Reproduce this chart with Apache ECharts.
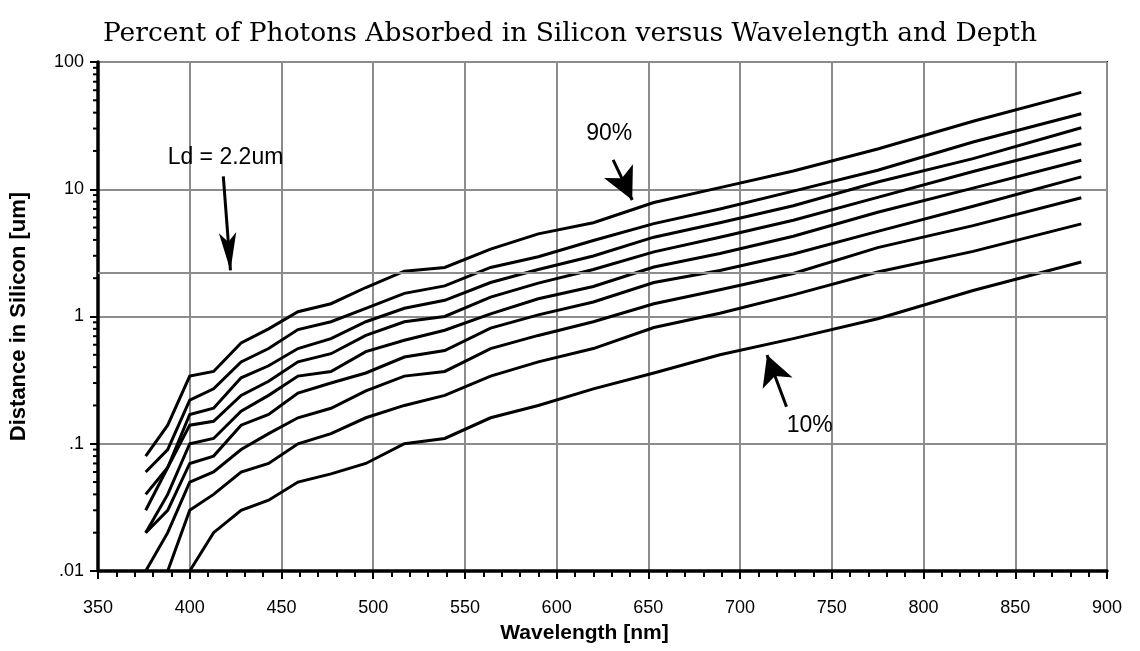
<!DOCTYPE html>
<html>
<head>
<meta charset="utf-8">
<script src="https://cdn.jsdelivr.net/npm/echarts@6/dist/echarts.min.js"></script>
<style>
  html, body { margin: 0; padding: 0; background: #fff; }
  #chart { width: 1140px; height: 651px; }
</style>
</head>
<body>
<div id="chart"></div>
<script>
// Photon energies 3.3 eV ... 1.4 eV expressed as wavelength (nm)
const wavelengths = [376, 388, 400, 413, 428, 443, 459, 477, 496, 517, 539, 564, 590, 620, 653, 689, 729, 775, 827, 886];

// Depth (um) at which the given fraction of photons has been absorbed
const depth90 = [0.08, 0.14, 0.34, 0.37, 0.62, 0.80, 1.09, 1.26, 1.69, 2.27, 2.43, 3.38, 4.46, 5.46, 7.86, 10.3, 13.9, 20.7, 34.2, 57.7];
const depth80 = [0.06, 0.09, 0.22, 0.27, 0.44, 0.56, 0.79, 0.91, 1.16, 1.52, 1.74, 2.43, 2.95, 3.96, 5.37, 7.0, 9.66, 14.1, 23.5, 39.2];
const depth70 = [0.04, 0.065, 0.17, 0.19, 0.33, 0.41, 0.56, 0.67, 0.91, 1.16, 1.34, 1.85, 2.34, 2.99, 4.2, 5.46, 7.42, 11.4, 17.4, 30.4];
const depth60 = [0.03, 0.065, 0.14, 0.15, 0.24, 0.31, 0.44, 0.51, 0.71, 0.91, 1.0, 1.42, 1.83, 2.34, 3.22, 4.2, 5.7, 8.63, 13.8, 22.8];
const depth50 = [0.02, 0.04, 0.10, 0.11, 0.18, 0.24, 0.34, 0.37, 0.53, 0.65, 0.78, 1.05, 1.38, 1.72, 2.45, 3.13, 4.27, 6.59, 10.2, 16.9];
const depth40 = [0.02, 0.03, 0.07, 0.08, 0.14, 0.17, 0.25, 0.30, 0.36, 0.48, 0.54, 0.81, 1.03, 1.30, 1.85, 2.3, 3.1, 4.67, 7.36, 12.5];
const depth30 = [0.01, 0.02, 0.05, 0.06, 0.09, 0.12, 0.16, 0.19, 0.26, 0.34, 0.37, 0.56, 0.71, 0.91, 1.26, 1.62, 2.18, 3.48, 5.18, 8.58];
const depth20 = [null, 0.01, 0.03, 0.04, 0.06, 0.07, 0.10, 0.12, 0.16, 0.20, 0.24, 0.34, 0.44, 0.56, 0.82, 1.06, 1.48, 2.24, 3.25, 5.34];
const depth10 = [null, null, 0.01, 0.02, 0.03, 0.036, 0.05, 0.058, 0.07, 0.10, 0.11, 0.16, 0.20, 0.27, 0.36, 0.50, 0.67, 0.96, 1.6, 2.68];

const curves = [
  { name: '90%', values: depth90 },
  { name: '80%', values: depth80 },
  { name: '70%', values: depth70 },
  { name: '60%', values: depth60 },
  { name: '50%', values: depth50 },
  { name: '40%', values: depth40 },
  { name: '30%', values: depth30 },
  { name: '20%', values: depth20 },
  { name: '10%', values: depth10 }
];

// Axis ranges and tick labels
const xMin = 350, xMax = 900, xStep = 50;
const yMin = 0.01, yMax = 100;
const yTickLabels = { '100': '100', '10': '10', '1': '1', '0.1': '.1', '0.01': '.01' };

// Diffusion length reference line
const diffusionLength = 2.2;

// Annotations: text anchors and arrows, in data units
const annotationTexts = [
  { text: 'Ld = 2.2um', at: [419.5, 17.6] },
  { text: '90%', at: [628.7, 27.4] },
  { text: '10%', at: [738, 0.138] }
];
const annotationArrows = [
  { from: [418.3, 12.6], to: [422.2, 2.3], head: [13, 38] },
  { from: [630.8, 17.0], to: [641.2, 8.23], head: [24, 32] },
  { from: [725.3, 0.195], to: [714.7, 0.498], head: [24, 30] }
];

// Unlabelled minor ticks at 2..9 of each decade
const yMinorTicks = [];
for (let e = -2; e < 2; e++) {
  for (let m = 2; m <= 9; m++) yMinorTicks.push(+(m * Math.pow(10, e)).toPrecision(2));
}

const FONT = '"Liberation Sans", Arial, Helvetica, sans-serif';
const GRID_GRAY = '#8c8c8c';

const chart = echarts.init(document.getElementById('chart'), null, { renderer: 'canvas' });

const series = curves.map(c => ({
  name: c.name,
  type: 'line',
  data: wavelengths.map((w, i) => [w, c.values[i]]).filter(p => p[1] != null),
  showSymbol: false,
  symbol: 'none',
  silent: true,
  z: 3,
  lineStyle: { color: '#000', width: 3, join: 'miter' }
}));

// Diffusion-length gridline
series.push({
  type: 'line',
  data: [],
  silent: true,
  z: 1,
  markLine: {
    silent: true,
    symbol: ['none', 'none'],
    label: { show: false },
    lineStyle: { color: GRID_GRAY, width: 2, type: 'solid' },
    data: [{ yAxis: diffusionLength }]
  }
});

// Annotation arrows and labels
series.push({
  type: 'line',
  data: [],
  silent: true,
  z: 5,
  markLine: {
    silent: true,
    animation: false,
    label: { show: false },
    lineStyle: { color: '#000', width: 3, type: 'solid' },
    data: annotationArrows.map(a => [
      { coord: a.from, symbol: 'none' },
      { coord: a.to, symbol: 'arrow', symbolSize: a.head }
    ])
  },
  markPoint: {
    silent: true,
    animation: false,
    symbol: 'circle',
    symbolSize: 0,
    data: annotationTexts.map(t => ({
      coord: t.at,
      label: {
        show: true, position: 'inside', formatter: t.text,
        color: '#000', fontFamily: FONT, fontSize: 23
      }
    }))
  }
});

// Minor ticks on the logarithmic axis
series.push({
  type: 'custom',
  silent: true,
  clip: false,
  z: 6,
  data: yMinorTicks.map(v => [xMin, v]),
  renderItem: (params, api) => {
    const p = api.coord([api.value(0), api.value(1)]);
    return {
      type: 'line',
      shape: { x1: p[0] - 5, y1: p[1], x2: p[0], y2: p[1] },
      style: { stroke: '#000', lineWidth: 2 }
    };
  }
});

chart.setOption({
  animation: false,
  backgroundColor: '#fff',
  title: {
    text: 'Percent of Photons Absorbed in Silicon versus Wavelength and Depth',
    left: 'center',
    top: 21,
    padding: 0,
    textStyle: { fontFamily: '"DejaVu Serif", serif', fontSize: 26.5, fontWeight: 'normal', color: '#000' }
  },
  grid: {
    left: 98, right: 33, top: 62, bottom: 80,
    show: true, borderColor: '#000', borderWidth: 2, backgroundColor: 'transparent',
    outerBoundsMode: 'none'
  },
  xAxis: {
    type: 'value',
    min: xMin, max: xMax, interval: xStep,
    name: 'Wavelength [nm]',
    nameLocation: 'middle',
    nameGap: 52,
    nameTextStyle: { fontFamily: FONT, fontSize: 21, fontWeight: 'bold', color: '#000', padding: [0, 36, 0, 0] },
    axisLine: { show: true, onZero: false, lineStyle: { color: '#000', width: 3.5 } },
    axisTick: { show: true, inside: false, length: 8, lineStyle: { color: '#000', width: 2 } },
    minorTick: { show: true, splitNumber: 5, length: 6, lineStyle: { color: '#000', width: 2 } },
    axisLabel: { margin: 28, fontFamily: FONT, fontSize: 18, color: '#000' },
    splitLine: { show: true, lineStyle: { color: GRID_GRAY, width: 2 } }
  },
  yAxis: {
    type: 'log',
    logBase: 10,
    min: yMin, max: yMax,
    name: 'Distance in Silicon [um]',
    nameLocation: 'middle',
    nameGap: 68,
    nameTextStyle: { fontFamily: FONT, fontSize: 22, fontWeight: 'bold', color: '#000' },
    axisLine: { show: true, lineStyle: { color: '#000', width: 3.5 } },
    axisTick: { show: true, inside: false, length: 8, lineStyle: { color: '#000', width: 2 } },
    axisLabel: {
      margin: 14, fontFamily: FONT, fontSize: 18, color: '#000',
      formatter: v => {
        const key = String(+v.toPrecision(3));
        return yTickLabels[key] !== undefined ? yTickLabels[key] : '';
      }
    },
    splitLine: { show: true, lineStyle: { color: GRID_GRAY, width: 2 } }
  },
  series: series
});
</script>
</body>
</html>
